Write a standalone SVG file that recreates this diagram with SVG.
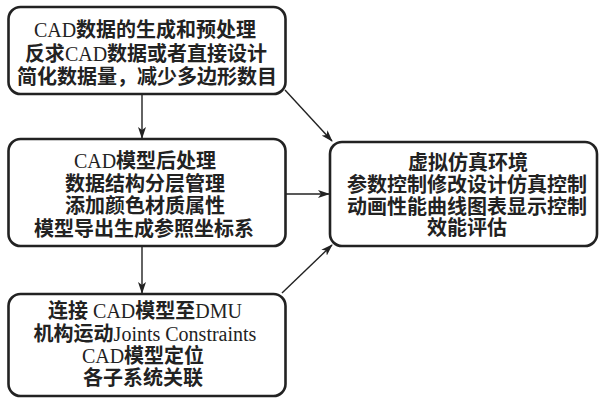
<svg xmlns="http://www.w3.org/2000/svg" width="599" height="398" viewBox="0 0 599 398">
<defs>
<style>
.box{fill:#fff;stroke:#222;stroke-width:2.6}
.t{font-family:"Liberation Serif","Noto Sans CJK SC",serif;font-size:20px;font-weight:700;fill:#222;text-anchor:middle}
.l{font-weight:400}
.c{stroke:#222;stroke-width:1.4;fill:none;marker-end:url(#ah)}
</style>
<marker id="ah" viewBox="0 0 12 8" refX="11" refY="4" markerWidth="12" markerHeight="8" markerUnits="userSpaceOnUse" orient="auto">
<path d="M0,0 L12,4 L0,8 L3,4 Z" fill="#222"/>
</marker>
</defs>
<rect width="599" height="398" fill="#fff"/>
<g id="connectors">
<line class="c" x1="142" y1="94" x2="142" y2="138"/>
<line class="c" x1="142" y1="246" x2="142" y2="293"/>
<line class="c" x1="285" y1="90" x2="332" y2="141"/>
<line class="c" x1="285" y1="194" x2="329" y2="194"/>
<line class="c" x1="282" y1="293" x2="332" y2="245"/>
</g>
<g id="n1">
<rect class="box" x="8.5" y="7" width="277" height="87" rx="12"/>
<text class="t" x="145" y="37"><tspan class="l">CAD</tspan>数据的生成和预处理</text>
<text class="t" x="146" y="61">反求<tspan class="l">CAD</tspan>数据或者直接设计</text>
<text class="t" x="147" y="84">简化数据量，减少多边形数目</text>
</g>
<g id="n2">
<rect class="box" x="8.5" y="139" width="277" height="107" rx="12"/>
<text class="t" x="145" y="168"><tspan class="l">CAD</tspan>模型后处理</text>
<text class="t" x="145" y="191">数据结构分层管理</text>
<text class="t" x="145" y="213">添加颜色材质属性</text>
<text class="t" x="144" y="236">模型导出生成参照坐标系</text>
</g>
<g id="n3">
<rect class="box" x="8.5" y="294" width="277" height="102" rx="12"/>
<text class="t" x="145" y="318">连接 <tspan class="l">CAD</tspan>模型至<tspan class="l">DMU</tspan></text>
<text class="t" x="145" y="341">机构运动<tspan class="l">Joints Constraints</tspan></text>
<text class="t" x="143" y="363"><tspan class="l">CAD</tspan>模型定位</text>
<text class="t" x="143" y="385">各子系统关联</text>
</g>
<g id="n4">
<rect class="box" x="330" y="142" width="267" height="104" rx="12"/>
<text class="t" x="468" y="170">虚拟仿真环境</text>
<text class="t" x="467" y="192">参数控制修改设计仿真控制</text>
<text class="t" x="467" y="214">动画性能曲线图表显示控制</text>
<text class="t" x="467" y="235">效能评估</text>
</g>
</svg>
